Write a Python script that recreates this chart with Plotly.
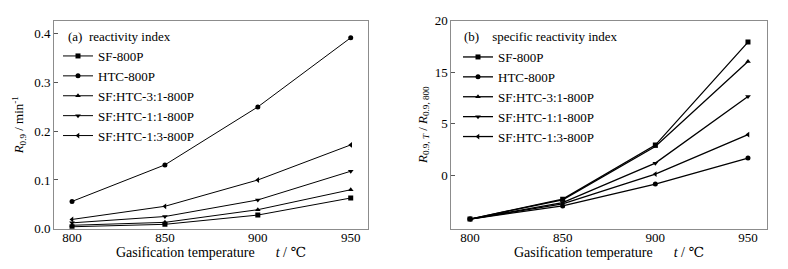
import plotly.graph_objects as go

temps = [800, 850, 900, 950]
series_names = ["SF-800P", "HTC-800P", "SF:HTC-3:1-800P", "SF:HTC-1:1-800P", "SF:HTC-1:3-800P"]
symbols = ["square", "circle", "triangle-up", "triangle-down", "triangle-left"]

# (a) reactivity index R0.9 / min^-1
r09 = {
    "SF-800P":         [0.004, 0.009, 0.028, 0.063],
    "HTC-800P":        [0.056, 0.131, 0.250, 0.392],
    "SF:HTC-3:1-800P": [0.007, 0.013, 0.039, 0.080],
    "SF:HTC-1:1-800P": [0.012, 0.025, 0.059, 0.118],
    "SF:HTC-1:3-800P": [0.019, 0.046, 0.100, 0.172],
}

# (b) specific reactivity index, in axis-position units (tick labels as printed)
rel = {
    "SF-800P":         [-4.22, -2.29, 2.95, 12.93],
    "HTC-800P":        [-4.22, -2.94, -0.83, 1.69],
    "SF:HTC-3:1-800P": [-4.22, -2.35, 2.81, 11.05],
    "SF:HTC-1:1-800P": [-4.22, -2.62, 1.20, 7.66],
    "SF:HTC-1:3-800P": [-4.22, -2.74, 0.14, 3.97],
}
b_tickvals = [0, 5, 10, 15]
b_ticktext = ["0", "5", "15", "20"]
a_tickvals = [0.0, 0.1, 0.2, 0.3, 0.4]
a_ticktext = ["0.0", "0.1", "0.2", "0.3", "0.4"]

FONT = "Liberation Serif, Times New Roman, DejaVu Serif, serif"
fig = go.Figure()

for name, sym in zip(series_names, symbols):
    fig.add_trace(go.Scatter(
        x=temps, y=r09[name], mode="lines+markers", name=name,
        line=dict(color="black", width=1),
        marker=dict(symbol=sym, size=5, color="black"),
        xaxis="x", yaxis="y", legend="legend"))
for name, sym in zip(series_names, symbols):
    fig.add_trace(go.Scatter(
        x=temps, y=rel[name], mode="lines+markers", name=name,
        line=dict(color="black", width=1.3),
        marker=dict(symbol=sym, size=5, color="black"),
        xaxis="x2", yaxis="y2", legend="legend2"))

W, H = 788, 269
def dx(a, b):
    return [a / W, b / W]
ydom = [1 - 228.7 / H, 1 - 20.7 / H]

axis_common = dict(showline=True, linecolor="#8c8c8c", linewidth=1, mirror=True,
                   showgrid=False, zeroline=False, automargin=False,
                   tickfont=dict(family=FONT, size=13, color="black"))

xtitle = "Gasification temperature      <i>t</i> / ℃"
fig.update_layout(
    width=W, height=H, margin=dict(l=0, r=0, t=0, b=0, autoexpand=False),
    paper_bgcolor="white", plot_bgcolor="white",
    font=dict(family=FONT, size=13, color="black"),
    xaxis=dict(domain=dx(54, 368), range=[790.3, 959.3], tickvals=temps,
               ticks="", ticklabelstandoff=-3, **axis_common,
               title=dict(text=xtitle, font=dict(family=FONT, size=14), standoff=2)),
    yaxis=dict(domain=ydom, range=[0, 0.427], tickvals=a_tickvals, ticktext=a_ticktext,
               ticks="inside", ticklen=4, tickcolor="#555", **axis_common,
               title=dict(text="<i>R</i><sub>0.9</sub> / min<sup>-1</sup>",
                          font=dict(family=FONT, size=13), standoff=7)),
    xaxis2=dict(domain=dx(451.3, 766.7), range=[789.9, 960.1], tickvals=temps,
                ticks="", ticklabelstandoff=-3, anchor="y2", **axis_common,
                title=dict(text=xtitle, font=dict(family=FONT, size=14), standoff=2)),
    yaxis2=dict(domain=ydom, range=[-5.15, 15], tickvals=b_tickvals, ticktext=b_ticktext,
                ticks="inside", ticklen=4, tickcolor="#555", anchor="x2", **axis_common,
                title=dict(text="<i>R</i><sub>0.9, <i>T</i></sub> / <i>R</i><sub>0.9, 800</sub>",
                           font=dict(family=FONT, size=13), standoff=4)),
    legend=dict(x=58 / W, y=1 - 41 / H, xanchor="left", yanchor="top",
                bgcolor="rgba(0,0,0,0)", font=dict(family=FONT, size=13),
                itemwidth=30, tracegroupgap=0),
    legend2=dict(x=458 / W, y=1 - 42 / H, xanchor="left", yanchor="top",
                 bgcolor="rgba(0,0,0,0)", font=dict(family=FONT, size=13),
                 itemwidth=30, tracegroupgap=0),
    annotations=[
        dict(text="(a)  reactivity index", x=66 / W, y=1 - 36 / H, xref="paper", yref="paper",
             xanchor="left", yanchor="middle", showarrow=False, font=dict(family=FONT, size=13)),
        dict(text="(b)    specific reactivity index", x=462 / W, y=1 - 36.5 / H, xref="paper",
             yref="paper", xanchor="left", yanchor="middle", showarrow=False,
             font=dict(family=FONT, size=13)),
    ],
)

fig.write_html("out.html", config={"displayModeBar": False},
               post_script="document.body.style.margin='0';")
